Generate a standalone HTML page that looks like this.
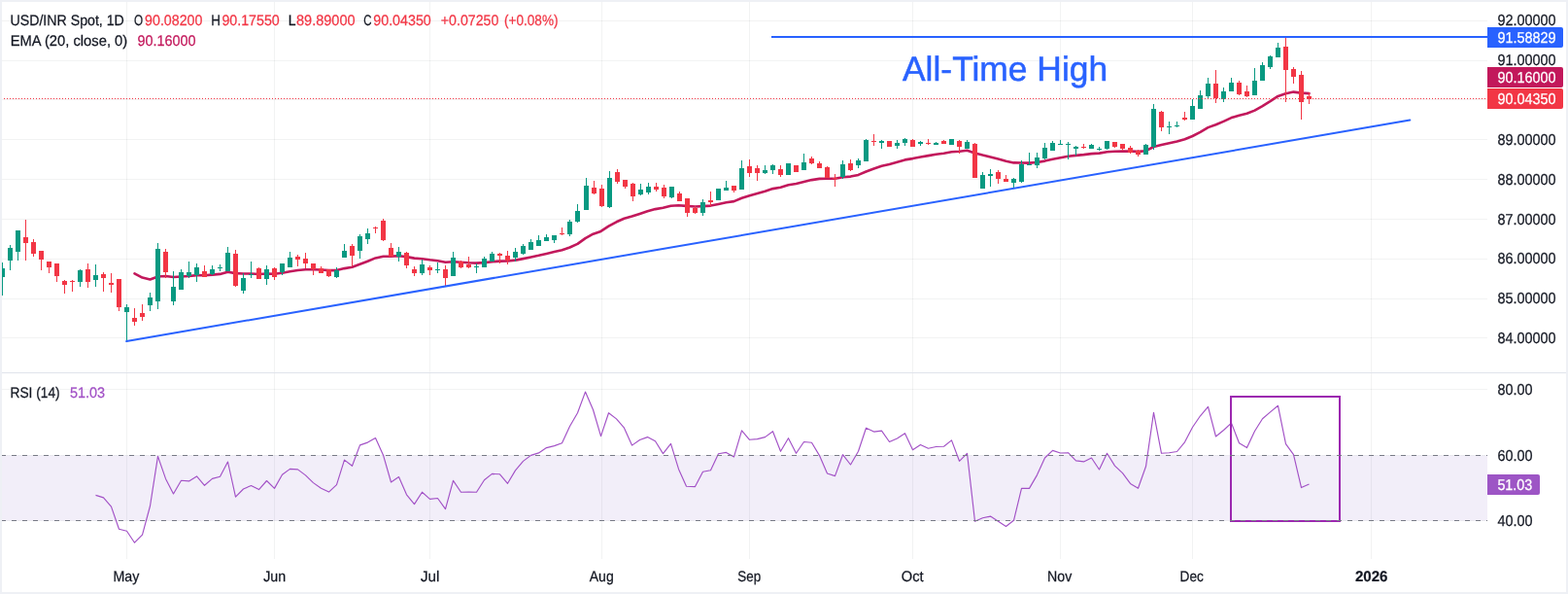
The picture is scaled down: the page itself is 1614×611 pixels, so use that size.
<!DOCTYPE html>
<html lang="en">
<head>
<meta charset="utf-8">
<title>USD/INR Spot, 1D</title>
<style>
html,body{margin:0;padding:0;background:#eef0f5;}
body{width:1614px;height:611px;overflow:hidden;position:relative;}
#chart{position:absolute;left:2px;top:2px;width:1610px;height:607px;background:#fff;}
svg{position:absolute;left:0;top:0;display:block;}
svg text{font-family:"Liberation Sans", sans-serif;white-space:pre;text-rendering:geometricPrecision;}
</style>
</head>
<body>
<div id="chart"></div>
<svg width="1614" height="611" viewBox="0 0 1614 611">
<defs><clipPath id="cp"><rect x="2" y="2" width="1610" height="607"/></clipPath></defs>
<g clip-path="url(#cp)">
<g fill="rgba(42,46,57,0.06)" shape-rendering="crispEdges"><rect x="130" y="2" width="1" height="573"/><rect x="282" y="2" width="1" height="573"/><rect x="442" y="2" width="1" height="573"/><rect x="619" y="2" width="1" height="573"/><rect x="771" y="2" width="1" height="573"/><rect x="939" y="2" width="1" height="573"/><rect x="1091" y="2" width="1" height="573"/><rect x="1227" y="2" width="1" height="573"/><rect x="1411" y="2" width="1" height="573"/><rect x="2" y="21" width="1529" height="1"/><rect x="2" y="62" width="1529" height="1"/><rect x="2" y="102" width="1529" height="1"/><rect x="2" y="143" width="1529" height="1"/><rect x="2" y="184" width="1529" height="1"/><rect x="2" y="225" width="1529" height="1"/><rect x="2" y="266" width="1529" height="1"/><rect x="2" y="307" width="1529" height="1"/><rect x="2" y="347" width="1529" height="1"/><rect x="2" y="400" width="1529" height="1"/><rect x="2" y="468" width="1529" height="1"/><rect x="2" y="535" width="1529" height="1"/></g>
<rect x="2" y="383" width="1610" height="1" fill="#e0e3eb" shape-rendering="crispEdges"/>
<rect x="2" y="468.5" width="1529" height="67" fill="rgba(126,87,194,0.1)"/>
<polyline fill="none" stroke="#C2185B" stroke-width="2.6" stroke-linejoin="round" stroke-linecap="round" points="138.5,281.4 146.5,285.6 154.5,287.5 162.5,284.5 170.5,284.0 178.5,285.0 186.5,284.5 194.5,284.0 202.5,283.1 210.5,283.3 218.5,282.6 226.5,281.9 234.5,279.8 242.5,281.1 250.5,281.5 258.5,281.5 266.5,282.0 274.5,281.5 282.5,281.8 290.5,280.7 298.5,279.2 306.5,278.0 314.5,277.3 322.5,277.2 330.5,277.5 338.5,278.1 346.5,278.1 354.5,276.1 362.5,274.8 370.5,271.8 378.5,268.7 386.5,265.4 394.5,263.7 402.5,263.6 410.5,263.2 418.5,264.1 426.5,265.6 434.5,266.2 442.5,267.3 450.5,268.2 458.5,269.8 466.5,269.3 474.5,269.8 482.5,270.3 490.5,270.6 498.5,270.1 506.5,269.2 514.5,268.6 522.5,268.5 530.5,267.6 538.5,266.1 546.5,264.5 554.5,262.8 562.5,260.9 570.5,259.1 578.5,257.3 586.5,254.5 594.5,250.9 602.5,245.1 610.5,240.7 618.5,237.9 626.5,232.7 634.5,228.3 642.5,224.8 650.5,222.6 658.5,219.9 666.5,217.2 674.5,215.1 682.5,213.8 690.5,211.7 698.5,211.2 706.5,211.9 715.5,212.5 723.5,212.1 731.5,211.6 739.5,209.9 747.5,208.3 755.5,207.1 763.5,203.8 771.5,201.3 779.5,199.0 787.5,196.7 795.5,194.1 803.5,192.7 811.5,190.3 819.5,189.0 827.5,186.9 835.5,185.1 843.5,183.9 851.5,183.8 859.5,183.7 867.5,182.3 875.5,181.6 883.5,179.9 891.5,176.5 899.5,173.5 907.5,170.8 915.5,168.9 923.5,166.7 931.5,164.4 939.5,163.1 947.5,161.5 955.5,160.1 963.5,158.8 971.5,157.8 979.5,156.3 987.5,155.8 995.5,154.8 1003.5,157.5 1011.5,159.6 1019.5,161.4 1027.5,163.5 1035.5,165.7 1043.5,167.4 1051.5,167.5 1059.5,167.6 1067.5,167.0 1075.5,165.6 1083.5,163.8 1091.5,162.2 1099.5,160.8 1107.5,159.9 1115.5,159.1 1123.5,158.1 1131.5,157.6 1139.5,156.3 1147.5,155.8 1155.5,155.5 1163.5,155.6 1171.5,155.9 1179.5,155.2 1187.5,151.0 1195.5,149.1 1203.5,147.2 1211.5,145.5 1219.5,143.3 1227.5,140.0 1235.5,135.9 1243.5,131.1 1251.5,128.2 1259.5,124.9 1267.5,121.1 1275.5,118.8 1283.5,116.8 1291.5,113.6 1299.5,109.1 1307.5,104.2 1315.5,98.9 1323.5,96.3 1331.5,94.6 1339.5,95.6 1347.5,96.1"/>
<g fill="#089981" shape-rendering="crispEdges"><rect x="2" y="270" width="1" height="34"/><rect x="0" y="276" width="5" height="9"/><rect x="10" y="252" width="1" height="26"/><rect x="8" y="255" width="5" height="13"/><rect x="18" y="237" width="1" height="31"/><rect x="16" y="237" width="5" height="22"/><rect x="82" y="277" width="1" height="18"/><rect x="80" y="278" width="5" height="12"/><rect x="98" y="272" width="1" height="23"/><rect x="96" y="283" width="5" height="5"/><rect x="130" y="313" width="1" height="38"/><rect x="128" y="316" width="5" height="5"/><rect x="154" y="301" width="1" height="19"/><rect x="152" y="306" width="5" height="8"/><rect x="162" y="250" width="1" height="68"/><rect x="160" y="256" width="5" height="54"/><rect x="178" y="279" width="1" height="35"/><rect x="176" y="295" width="5" height="15"/><rect x="186" y="277" width="1" height="21"/><rect x="184" y="280" width="5" height="18"/><rect x="194" y="269" width="1" height="17"/><rect x="192" y="280" width="5" height="4"/><rect x="202" y="271" width="1" height="19"/><rect x="200" y="275" width="5" height="8"/><rect x="218" y="273" width="1" height="10"/><rect x="216" y="277" width="5" height="5"/><rect x="226" y="272" width="1" height="7"/><rect x="224" y="275" width="5" height="1"/><rect x="234" y="254" width="1" height="25"/><rect x="232" y="260" width="5" height="19"/><rect x="250" y="281" width="1" height="21"/><rect x="248" y="286" width="5" height="13"/><rect x="258" y="269" width="1" height="17"/><rect x="256" y="282" width="5" height="1"/><rect x="274" y="273" width="1" height="20"/><rect x="272" y="277" width="5" height="10"/><rect x="290" y="271" width="1" height="12"/><rect x="288" y="271" width="5" height="9"/><rect x="298" y="259" width="1" height="16"/><rect x="296" y="265" width="5" height="10"/><rect x="346" y="275" width="1" height="11"/><rect x="344" y="278" width="5" height="7"/><rect x="354" y="251" width="1" height="14"/><rect x="352" y="258" width="5" height="7"/><rect x="370" y="241" width="1" height="25"/><rect x="368" y="243" width="5" height="15"/><rect x="378" y="235" width="1" height="16"/><rect x="376" y="240" width="5" height="6"/><rect x="410" y="254" width="1" height="15"/><rect x="408" y="259" width="5" height="5"/><rect x="434" y="267" width="1" height="16"/><rect x="432" y="272" width="5" height="9"/><rect x="450" y="270" width="1" height="11"/><rect x="448" y="277" width="5" height="1"/><rect x="466" y="259" width="1" height="25"/><rect x="464" y="265" width="5" height="19"/><rect x="490" y="271" width="1" height="10"/><rect x="488" y="274" width="5" height="1"/><rect x="498" y="264" width="1" height="11"/><rect x="496" y="266" width="5" height="9"/><rect x="506" y="259" width="1" height="10"/><rect x="504" y="261" width="5" height="8"/><rect x="530" y="255" width="1" height="14"/><rect x="528" y="259" width="5" height="6"/><rect x="538" y="251" width="1" height="11"/><rect x="536" y="253" width="5" height="8"/><rect x="546" y="246" width="1" height="11"/><rect x="544" y="249" width="5" height="8"/><rect x="554" y="242" width="1" height="11"/><rect x="552" y="247" width="5" height="6"/><rect x="562" y="241" width="1" height="7"/><rect x="560" y="244" width="5" height="4"/><rect x="570" y="242" width="1" height="8"/><rect x="568" y="242" width="5" height="5"/><rect x="586" y="226" width="1" height="17"/><rect x="584" y="228" width="5" height="13"/><rect x="594" y="210" width="1" height="19"/><rect x="592" y="217" width="5" height="11"/><rect x="603" y="183" width="1" height="33"/><rect x="601" y="191" width="5" height="25"/><rect x="627" y="176" width="1" height="38"/><rect x="625" y="183" width="5" height="30"/><rect x="659" y="189" width="1" height="12"/><rect x="657" y="195" width="5" height="5"/><rect x="667" y="188" width="1" height="12"/><rect x="665" y="192" width="5" height="6"/><rect x="691" y="192" width="1" height="12"/><rect x="689" y="192" width="5" height="11"/><rect x="723" y="205" width="1" height="17"/><rect x="721" y="208" width="5" height="11"/><rect x="739" y="194" width="1" height="12"/><rect x="737" y="194" width="5" height="12"/><rect x="747" y="186" width="1" height="10"/><rect x="745" y="193" width="5" height="3"/><rect x="763" y="165" width="1" height="30"/><rect x="761" y="173" width="5" height="22"/><rect x="787" y="170" width="1" height="9"/><rect x="785" y="175" width="5" height="3"/><rect x="795" y="169" width="1" height="10"/><rect x="793" y="170" width="5" height="5"/><rect x="811" y="168" width="1" height="12"/><rect x="809" y="168" width="5" height="12"/><rect x="827" y="158" width="1" height="17"/><rect x="825" y="167" width="5" height="8"/><rect x="867" y="165" width="1" height="19"/><rect x="865" y="169" width="5" height="13"/><rect x="883" y="163" width="1" height="10"/><rect x="881" y="165" width="5" height="5"/><rect x="891" y="143" width="1" height="23"/><rect x="889" y="144" width="5" height="22"/><rect x="907" y="144" width="1" height="9"/><rect x="905" y="145" width="5" height="2"/><rect x="923" y="144" width="1" height="9"/><rect x="921" y="147" width="5" height="3"/><rect x="931" y="142" width="1" height="8"/><rect x="929" y="143" width="5" height="4"/><rect x="947" y="145" width="1" height="5"/><rect x="945" y="146" width="5" height="2"/><rect x="963" y="146" width="1" height="3"/><rect x="961" y="147" width="5" height="2"/><rect x="979" y="143" width="1" height="6"/><rect x="977" y="143" width="5" height="6"/><rect x="995" y="144" width="1" height="9"/><rect x="993" y="146" width="5" height="7"/><rect x="1011" y="177" width="1" height="17"/><rect x="1009" y="180" width="5" height="14"/><rect x="1019" y="174" width="1" height="18"/><rect x="1017" y="179" width="5" height="2"/><rect x="1043" y="183" width="1" height="10"/><rect x="1041" y="184" width="5" height="4"/><rect x="1051" y="165" width="1" height="23"/><rect x="1049" y="169" width="5" height="18"/><rect x="1059" y="157" width="1" height="13"/><rect x="1057" y="169" width="5" height="1"/><rect x="1067" y="157" width="1" height="16"/><rect x="1065" y="162" width="5" height="8"/><rect x="1075" y="147" width="1" height="17"/><rect x="1073" y="152" width="5" height="11"/><rect x="1083" y="145" width="1" height="10"/><rect x="1081" y="147" width="5" height="8"/><rect x="1091" y="144" width="1" height="5"/><rect x="1089" y="148" width="5" height="1"/><rect x="1099" y="146" width="1" height="18"/><rect x="1097" y="148" width="5" height="1"/><rect x="1107" y="150" width="1" height="10"/><rect x="1105" y="151" width="5" height="2"/><rect x="1123" y="148" width="1" height="5"/><rect x="1121" y="149" width="5" height="4"/><rect x="1131" y="151" width="1" height="4"/><rect x="1129" y="153" width="5" height="1"/><rect x="1139" y="145" width="1" height="9"/><rect x="1137" y="145" width="5" height="8"/><rect x="1179" y="148" width="1" height="11"/><rect x="1177" y="149" width="5" height="10"/><rect x="1187" y="107" width="1" height="47"/><rect x="1185" y="112" width="5" height="39"/><rect x="1203" y="125" width="1" height="13"/><rect x="1201" y="130" width="5" height="1"/><rect x="1211" y="125" width="1" height="6"/><rect x="1209" y="129" width="5" height="1"/><rect x="1227" y="102" width="1" height="21"/><rect x="1225" y="109" width="5" height="14"/><rect x="1235" y="93" width="1" height="19"/><rect x="1233" y="98" width="5" height="14"/><rect x="1243" y="80" width="1" height="21"/><rect x="1241" y="86" width="5" height="13"/><rect x="1259" y="90" width="1" height="15"/><rect x="1257" y="94" width="5" height="8"/><rect x="1267" y="80" width="1" height="14"/><rect x="1265" y="85" width="5" height="9"/><rect x="1291" y="70" width="1" height="28"/><rect x="1289" y="83" width="5" height="15"/><rect x="1299" y="64" width="1" height="19"/><rect x="1297" y="67" width="5" height="16"/><rect x="1307" y="57" width="1" height="14"/><rect x="1305" y="58" width="5" height="11"/><rect x="1315" y="44" width="1" height="15"/><rect x="1313" y="49" width="5" height="10"/></g>
<g fill="#F23645" shape-rendering="crispEdges"><rect x="26" y="226" width="1" height="42"/><rect x="24" y="244" width="5" height="6"/><rect x="34" y="246" width="1" height="18"/><rect x="32" y="249" width="5" height="12"/><rect x="42" y="258" width="1" height="20"/><rect x="40" y="258" width="5" height="9"/><rect x="50" y="269" width="1" height="12"/><rect x="48" y="269" width="5" height="6"/><rect x="58" y="271" width="1" height="19"/><rect x="56" y="271" width="5" height="13"/><rect x="66" y="288" width="1" height="14"/><rect x="64" y="289" width="5" height="4"/><rect x="74" y="288" width="1" height="12"/><rect x="72" y="289" width="5" height="1"/><rect x="90" y="271" width="1" height="25"/><rect x="88" y="277" width="5" height="13"/><rect x="106" y="280" width="1" height="20"/><rect x="104" y="282" width="5" height="4"/><rect x="114" y="281" width="1" height="20"/><rect x="112" y="291" width="5" height="2"/><rect x="122" y="287" width="1" height="33"/><rect x="120" y="287" width="5" height="29"/><rect x="138" y="317" width="1" height="18"/><rect x="136" y="327" width="5" height="4"/><rect x="146" y="313" width="1" height="17"/><rect x="144" y="322" width="5" height="4"/><rect x="170" y="256" width="1" height="30"/><rect x="168" y="259" width="5" height="21"/><rect x="210" y="273" width="1" height="12"/><rect x="208" y="279" width="5" height="6"/><rect x="242" y="257" width="1" height="38"/><rect x="240" y="261" width="5" height="33"/><rect x="266" y="275" width="1" height="12"/><rect x="264" y="276" width="5" height="11"/><rect x="282" y="275" width="1" height="13"/><rect x="280" y="276" width="5" height="9"/><rect x="306" y="262" width="1" height="12"/><rect x="304" y="264" width="5" height="3"/><rect x="314" y="260" width="1" height="16"/><rect x="312" y="266" width="5" height="5"/><rect x="322" y="271" width="1" height="12"/><rect x="320" y="271" width="5" height="6"/><rect x="330" y="274" width="1" height="7"/><rect x="328" y="276" width="5" height="5"/><rect x="338" y="277" width="1" height="8"/><rect x="336" y="277" width="5" height="7"/><rect x="362" y="251" width="1" height="23"/><rect x="360" y="253" width="5" height="10"/><rect x="386" y="233" width="1" height="7"/><rect x="384" y="234" width="5" height="1"/><rect x="394" y="225" width="1" height="23"/><rect x="392" y="227" width="5" height="20"/><rect x="402" y="250" width="1" height="14"/><rect x="400" y="255" width="5" height="9"/><rect x="418" y="259" width="1" height="17"/><rect x="416" y="260" width="5" height="13"/><rect x="426" y="274" width="1" height="10"/><rect x="424" y="277" width="5" height="4"/><rect x="442" y="273" width="1" height="10"/><rect x="440" y="275" width="5" height="3"/><rect x="458" y="273" width="1" height="21"/><rect x="456" y="277" width="5" height="9"/><rect x="474" y="268" width="1" height="8"/><rect x="472" y="269" width="5" height="6"/><rect x="482" y="264" width="1" height="12"/><rect x="480" y="272" width="5" height="3"/><rect x="514" y="260" width="1" height="11"/><rect x="512" y="261" width="5" height="2"/><rect x="522" y="258" width="1" height="14"/><rect x="520" y="263" width="5" height="5"/><rect x="578" y="234" width="1" height="8"/><rect x="576" y="240" width="5" height="1"/><rect x="611" y="186" width="1" height="14"/><rect x="609" y="193" width="5" height="6"/><rect x="619" y="190" width="1" height="23"/><rect x="617" y="194" width="5" height="18"/><rect x="635" y="174" width="1" height="15"/><rect x="633" y="177" width="5" height="10"/><rect x="643" y="185" width="1" height="9"/><rect x="641" y="185" width="5" height="7"/><rect x="651" y="188" width="1" height="19"/><rect x="649" y="189" width="5" height="13"/><rect x="675" y="188" width="1" height="9"/><rect x="673" y="192" width="5" height="3"/><rect x="683" y="190" width="1" height="14"/><rect x="681" y="193" width="5" height="9"/><rect x="699" y="197" width="1" height="10"/><rect x="697" y="199" width="5" height="8"/><rect x="707" y="204" width="1" height="19"/><rect x="705" y="204" width="5" height="15"/><rect x="715" y="212" width="1" height="8"/><rect x="713" y="214" width="5" height="5"/><rect x="731" y="197" width="1" height="15"/><rect x="729" y="206" width="5" height="2"/><rect x="755" y="191" width="1" height="7"/><rect x="753" y="191" width="5" height="5"/><rect x="771" y="164" width="1" height="18"/><rect x="769" y="171" width="5" height="7"/><rect x="779" y="170" width="1" height="16"/><rect x="777" y="173" width="5" height="5"/><rect x="803" y="170" width="1" height="12"/><rect x="801" y="174" width="5" height="6"/><rect x="819" y="170" width="1" height="7"/><rect x="817" y="170" width="5" height="7"/><rect x="835" y="161" width="1" height="8"/><rect x="833" y="163" width="5" height="5"/><rect x="843" y="166" width="1" height="7"/><rect x="841" y="168" width="5" height="5"/><rect x="851" y="171" width="1" height="12"/><rect x="849" y="172" width="5" height="11"/><rect x="859" y="179" width="1" height="13"/><rect x="857" y="183" width="5" height="1"/><rect x="875" y="164" width="1" height="12"/><rect x="873" y="168" width="5" height="7"/><rect x="899" y="138" width="1" height="12"/><rect x="897" y="145" width="5" height="1"/><rect x="915" y="145" width="1" height="6"/><rect x="913" y="145" width="5" height="6"/><rect x="939" y="143" width="1" height="8"/><rect x="937" y="144" width="5" height="7"/><rect x="955" y="143" width="1" height="6"/><rect x="953" y="147" width="5" height="1"/><rect x="971" y="144" width="1" height="4"/><rect x="969" y="145" width="5" height="3"/><rect x="987" y="144" width="1" height="14"/><rect x="985" y="145" width="5" height="6"/><rect x="1003" y="147" width="1" height="36"/><rect x="1001" y="148" width="5" height="35"/><rect x="1027" y="175" width="1" height="14"/><rect x="1025" y="177" width="5" height="7"/><rect x="1035" y="180" width="1" height="7"/><rect x="1033" y="184" width="5" height="3"/><rect x="1115" y="148" width="1" height="5"/><rect x="1113" y="151" width="5" height="1"/><rect x="1147" y="146" width="1" height="6"/><rect x="1145" y="146" width="5" height="5"/><rect x="1155" y="148" width="1" height="7"/><rect x="1153" y="148" width="5" height="5"/><rect x="1163" y="150" width="1" height="8"/><rect x="1161" y="152" width="5" height="5"/><rect x="1171" y="154" width="1" height="7"/><rect x="1169" y="155" width="5" height="4"/><rect x="1195" y="114" width="1" height="21"/><rect x="1193" y="115" width="5" height="16"/><rect x="1219" y="115" width="1" height="9"/><rect x="1217" y="121" width="5" height="2"/><rect x="1251" y="72" width="1" height="34"/><rect x="1249" y="86" width="5" height="15"/><rect x="1275" y="83" width="1" height="15"/><rect x="1273" y="85" width="5" height="12"/><rect x="1283" y="88" width="1" height="12"/><rect x="1281" y="94" width="5" height="5"/><rect x="1323" y="39" width="1" height="66"/><rect x="1321" y="48" width="5" height="24"/><rect x="1331" y="69" width="1" height="17"/><rect x="1329" y="71" width="5" height="8"/><rect x="1339" y="73" width="1" height="50"/><rect x="1337" y="77" width="5" height="28"/><rect x="1347" y="95" width="1" height="12"/><rect x="1345" y="99" width="5" height="3"/></g>
<line x1="1" y1="101.5" x2="1531" y2="101.5" stroke="#F23645" stroke-width="1" stroke-dasharray="1 2" shape-rendering="crispEdges"/>
<line x1="130.2" y1="351" x2="1451.3" y2="123.6" stroke="#2962FF" stroke-width="2" stroke-linecap="round"/>
<rect x="794" y="37" width="737" height="2" fill="#2962FF"/>
<polyline fill="none" stroke="#a251c6" stroke-width="1.15" stroke-linejoin="round" points="98.5,509.4 106.5,511.9 114.5,521.1 122.5,544.2 130.5,546.3 138.5,558.2 146.5,550.1 154.5,520.5 162.5,469.4 170.5,492.4 178.5,508.0 186.5,494.3 194.5,494.9 202.5,489.9 210.5,499.3 218.5,492.4 226.5,490.3 234.5,475.0 242.5,511.1 250.5,503.0 258.5,499.5 266.5,503.6 274.5,494.5 282.5,502.4 290.5,488.3 298.5,482.4 306.5,482.9 314.5,488.9 322.5,496.6 330.5,502.3 338.5,506.1 346.5,498.7 354.5,473.1 362.5,479.3 370.5,457.9 378.5,455.1 386.5,450.5 394.5,468.2 402.5,496.0 410.5,490.6 418.5,508.8 426.5,518.6 434.5,506.2 442.5,513.4 450.5,512.5 458.5,523.6 466.5,494.4 474.5,506.3 482.5,506.1 490.5,506.3 498.5,493.7 506.5,487.4 514.5,487.8 522.5,497.3 530.5,483.9 538.5,474.4 546.5,468.4 554.5,465.9 562.5,460.6 570.5,458.6 578.5,455.7 586.5,438.5 594.5,424.7 602.5,403.1 610.5,421.5 618.5,448.6 626.5,424.7 634.5,430.9 642.5,440.2 650.5,458.1 658.5,452.5 666.5,449.6 674.5,453.8 682.5,466.6 690.5,456.4 698.5,482.4 706.5,500.3 715.5,500.6 723.5,485.2 731.5,483.7 739.5,466.7 747.5,465.4 755.5,469.9 763.5,442.8 771.5,452.3 779.5,451.6 787.5,449.6 795.5,443.7 803.5,464.3 811.5,450.7 819.5,466.3 827.5,454.5 835.5,455.3 843.5,468.6 851.5,487.0 859.5,489.6 867.5,467.7 875.5,478.0 883.5,464.3 891.5,440.2 899.5,444.1 907.5,443.1 915.5,454.5 923.5,450.9 931.5,445.7 939.5,462.7 947.5,457.5 955.5,461.2 963.5,459.5 971.5,459.3 979.5,452.9 987.5,474.3 995.5,466.3 1003.5,536.3 1011.5,532.8 1019.5,531.1 1027.5,536.3 1035.5,541.5 1043.5,535.3 1051.5,502.4 1059.5,502.4 1067.5,488.6 1075.5,471.0 1083.5,463.4 1091.5,466.0 1099.5,465.7 1107.5,473.9 1115.5,474.9 1123.5,471.0 1131.5,483.0 1139.5,466.3 1147.5,479.1 1155.5,486.7 1163.5,497.4 1171.5,502.3 1179.5,479.8 1187.5,424.4 1195.5,466.3 1203.5,465.8 1211.5,464.5 1219.5,454.8 1227.5,439.5 1235.5,427.8 1243.5,418.3 1251.5,449.0 1259.5,442.5 1267.5,435.1 1275.5,455.7 1283.5,460.6 1291.5,443.5 1299.5,430.7 1307.5,423.9 1315.5,417.3 1323.5,456.6 1331.5,467.6 1339.5,501.6 1347.5,498.0"/>
<rect x="1267" y="408" width="112" height="128" fill="none" stroke="#9C27B0" stroke-width="2" shape-rendering="crispEdges"/>
<line x1="1" y1="468.5" x2="1531" y2="468.5" stroke="#787b86" stroke-width="1" stroke-dasharray="5 6" shape-rendering="crispEdges"/>
<line x1="1" y1="535.5" x2="1531" y2="535.5" stroke="#787b86" stroke-width="1" stroke-dasharray="5 6" shape-rendering="crispEdges"/>
<path d="M1531 28 H1607 Q1609 28 1609 30 V47 Q1609 49 1607 49 H1531 Z" fill="#2962FF"/>
<path d="M1531 69 H1607 Q1609 69 1609 71 V88 Q1609 90 1607 90 H1531 Z" fill="#C2185B"/>
<path d="M1531 91 H1607 Q1609 91 1609 93 V110 Q1609 112 1607 112 H1531 Z" fill="#F23645"/>
<path d="M1531 488 H1583 Q1585 488 1585 490 V507 Q1585 509 1583 509 H1531 Z" fill="#9d55c5"/>
</g>
<g>
<text x="10.47" y="25.90" font-size="15.3" fill="#131722" stroke="#131722" stroke-width="0.25" textLength="117.37" lengthAdjust="spacingAndGlyphs">USD/INR Spot, 1D</text>
<text x="138.10" y="25.90" font-size="15.3" fill="#131722" stroke="#131722" stroke-width="0.25" textLength="9.12" lengthAdjust="spacingAndGlyphs">O</text>
<text x="149.10" y="25.90" font-size="15.3" fill="#F23645" stroke="#F23645" stroke-width="0.25" textLength="59.27" lengthAdjust="spacingAndGlyphs">90.08200</text>
<text x="217.32" y="25.90" font-size="15.3" fill="#131722" stroke="#131722" stroke-width="0.25" textLength="9.70" lengthAdjust="spacingAndGlyphs">H</text>
<text x="228.40" y="25.90" font-size="15.3" fill="#F23645" stroke="#F23645" stroke-width="0.25" textLength="59.37" lengthAdjust="spacingAndGlyphs">90.17550</text>
<text x="296.79" y="25.90" font-size="15.3" fill="#131722" stroke="#131722" stroke-width="0.25" textLength="7.78" lengthAdjust="spacingAndGlyphs">L</text>
<text x="305.00" y="25.90" font-size="15.3" fill="#F23645" stroke="#F23645" stroke-width="0.25" textLength="60.58" lengthAdjust="spacingAndGlyphs">89.89000</text>
<text x="374.20" y="25.90" font-size="15.3" fill="#131722" stroke="#131722" stroke-width="0.25" textLength="8.23" lengthAdjust="spacingAndGlyphs">C</text>
<text x="384.30" y="25.90" font-size="15.3" fill="#F23645" stroke="#F23645" stroke-width="0.25" textLength="59.47" lengthAdjust="spacingAndGlyphs">90.04350</text>
<text x="453.80" y="25.90" font-size="15.3" fill="#F23645" stroke="#F23645" stroke-width="0.25" textLength="59.47" lengthAdjust="spacingAndGlyphs">+0.07250</text>
<text x="519.10" y="25.90" font-size="15.3" fill="#F23645" stroke="#F23645" stroke-width="0.25" textLength="55.38" lengthAdjust="spacingAndGlyphs">(+0.08%)</text>
<text x="10.74" y="46.90" font-size="15.3" fill="#131722" stroke="#131722" stroke-width="0.25" textLength="120.45" lengthAdjust="spacingAndGlyphs">EMA (20, close, 0)</text>
<text x="141.40" y="46.90" font-size="15.3" fill="#C2185B" stroke="#C2185B" stroke-width="0.25" textLength="60.18" lengthAdjust="spacingAndGlyphs">90.16000</text>
<text x="10.50" y="408.90" font-size="15.3" fill="#131722" stroke="#131722" stroke-width="0.25" textLength="51.18" lengthAdjust="spacingAndGlyphs">RSI (14)</text>
<text x="71.90" y="408.90" font-size="15.3" fill="#a251c6" stroke="#a251c6" stroke-width="0.25" textLength="36.18" lengthAdjust="spacingAndGlyphs">51.03</text>
<text x="929.00" y="82.70" font-size="35.5" fill="#2962FF" stroke="#2962FF" stroke-width="0.5" textLength="211.14" lengthAdjust="spacingAndGlyphs">All-Time High</text>
<text x="1541.40" y="26.00" font-size="15.8" fill="#131722" stroke="#131722" stroke-width="0.25" textLength="60.20" lengthAdjust="spacingAndGlyphs">92.00000</text>
<text x="1541.40" y="67.00" font-size="15.8" fill="#131722" stroke="#131722" stroke-width="0.25" textLength="60.20" lengthAdjust="spacingAndGlyphs">91.00000</text>
<text x="1541.40" y="149.00" font-size="15.8" fill="#131722" stroke="#131722" stroke-width="0.25" textLength="60.20" lengthAdjust="spacingAndGlyphs">89.00000</text>
<text x="1541.40" y="190.00" font-size="15.8" fill="#131722" stroke="#131722" stroke-width="0.25" textLength="60.20" lengthAdjust="spacingAndGlyphs">88.00000</text>
<text x="1541.40" y="231.00" font-size="15.8" fill="#131722" stroke="#131722" stroke-width="0.25" textLength="60.20" lengthAdjust="spacingAndGlyphs">87.00000</text>
<text x="1541.40" y="271.00" font-size="15.8" fill="#131722" stroke="#131722" stroke-width="0.25" textLength="60.20" lengthAdjust="spacingAndGlyphs">86.00000</text>
<text x="1541.40" y="312.00" font-size="15.8" fill="#131722" stroke="#131722" stroke-width="0.25" textLength="60.20" lengthAdjust="spacingAndGlyphs">85.00000</text>
<text x="1541.40" y="353.00" font-size="15.8" fill="#131722" stroke="#131722" stroke-width="0.25" textLength="60.20" lengthAdjust="spacingAndGlyphs">84.00000</text>
<text x="1541.40" y="406.00" font-size="15.8" fill="#131722" stroke="#131722" stroke-width="0.25" textLength="36.00" lengthAdjust="spacingAndGlyphs">80.00</text>
<text x="1541.40" y="474.00" font-size="15.8" fill="#131722" stroke="#131722" stroke-width="0.25" textLength="36.00" lengthAdjust="spacingAndGlyphs">60.00</text>
<text x="1541.40" y="541.00" font-size="15.8" fill="#131722" stroke="#131722" stroke-width="0.25" textLength="36.00" lengthAdjust="spacingAndGlyphs">40.00</text>
<text x="1541.40" y="44.00" font-size="15.8" fill="#fff" stroke="#fff" stroke-width="0.25" textLength="60.20" lengthAdjust="spacingAndGlyphs">91.58829</text>
<text x="1541.40" y="85.00" font-size="15.8" fill="#fff" stroke="#fff" stroke-width="0.25" textLength="60.20" lengthAdjust="spacingAndGlyphs">90.16000</text>
<text x="1541.40" y="107.00" font-size="15.8" fill="#fff" stroke="#fff" stroke-width="0.25" textLength="60.20" lengthAdjust="spacingAndGlyphs">90.04350</text>
<text x="1541.40" y="504.00" font-size="15.8" fill="#fff" stroke="#fff" stroke-width="0.25" textLength="35.91" lengthAdjust="spacingAndGlyphs">51.03</text>
<text x="116.42" y="597.90" font-size="15.3" fill="#131722" stroke="#131722" stroke-width="0.25" textLength="26.90" lengthAdjust="spacingAndGlyphs">May</text>
<text x="271.25" y="597.90" font-size="15.3" fill="#131722" stroke="#131722" stroke-width="0.25" textLength="22.97" lengthAdjust="spacingAndGlyphs">Jun</text>
<text x="433.00" y="597.90" font-size="15.3" fill="#131722" stroke="#131722" stroke-width="0.25" textLength="19.40" lengthAdjust="spacingAndGlyphs">Jul</text>
<text x="606.75" y="597.90" font-size="15.3" fill="#131722" stroke="#131722" stroke-width="0.25" textLength="24.97" lengthAdjust="spacingAndGlyphs">Aug</text>
<text x="759.30" y="597.90" font-size="15.3" fill="#131722" stroke="#131722" stroke-width="0.25" textLength="23.84" lengthAdjust="spacingAndGlyphs">Sep</text>
<text x="927.75" y="597.90" font-size="15.3" fill="#131722" stroke="#131722" stroke-width="0.25" textLength="22.78" lengthAdjust="spacingAndGlyphs">Oct</text>
<text x="1078.07" y="597.90" font-size="15.3" fill="#131722" stroke="#131722" stroke-width="0.25" textLength="25.20" lengthAdjust="spacingAndGlyphs">Nov</text>
<text x="1214.56" y="597.90" font-size="15.3" fill="#131722" stroke="#131722" stroke-width="0.25" textLength="24.28" lengthAdjust="spacingAndGlyphs">Dec</text>
<text x="1395.00" y="597.90" font-size="15.3" fill="#131722" stroke="#131722" stroke-width="0.2" font-weight="bold" textLength="33.50" lengthAdjust="spacingAndGlyphs">2026</text>
</g>
</svg>
</body>
</html>
